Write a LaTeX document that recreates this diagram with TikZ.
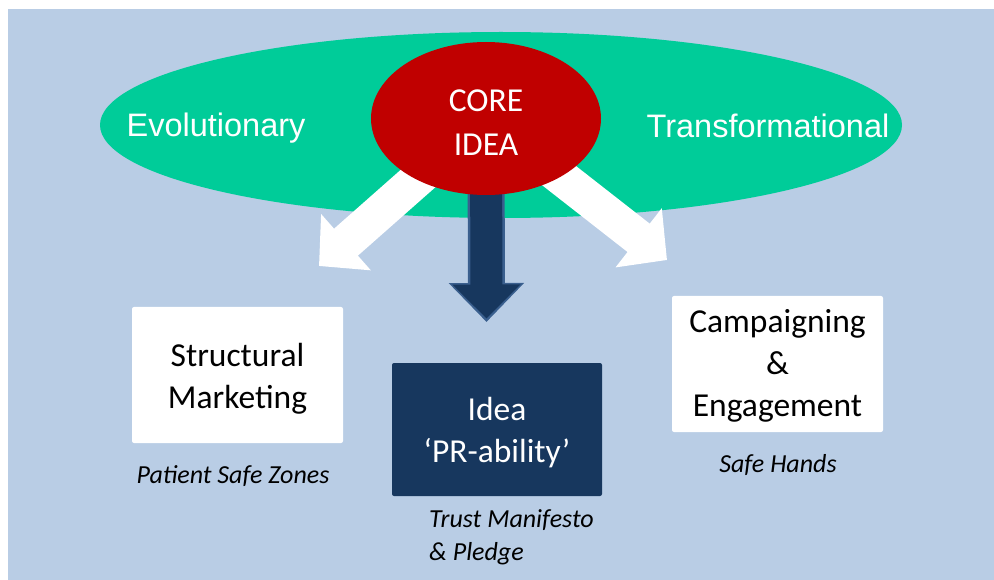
\documentclass[tikz,border=0pt]{standalone}
\usepackage{fontspec}
\setmainfont{Carlito}
\newfontfamily\arialfont{Liberation Sans}
\usetikzlibrary{shapes.geometric,arrows.meta,backgrounds}
\definecolor{SKY}{HTML}{B9CDE5}
\definecolor{MINT}{HTML}{00CC99}
\definecolor{CRIMSON}{HTML}{C00000}
\definecolor{NAVY}{HTML}{17375E}
\definecolor{NAVYEDGE}{HTML}{3A5F8E}
\newcommand{\topstrut}{\rule{0pt}{30pt}}
\begin{document}
\begin{tikzpicture}
[
 x=1pt, y=-1pt,
 inner sep=0pt,
 GREENOVAL/.style={ellipse, fill=MINT, minimum width=802pt, minimum height=186pt},
 REDOVAL/.style={ellipse, fill=CRIMSON, minimum width=230pt, minimum height=153pt,
                 text=white, align=center, font=\fontsize{33.5}{44}\selectfont},
 SIDE/.style={text=white, anchor=base, font=\arialfont\fontsize{32.5}{38}\selectfont},
 WHITEBOX/.style={rectangle, rounded corners=2pt, fill=white, minimum width=211pt,
                  minimum height=136pt, align=center, font=\fontsize{33.5}{42}\selectfont},
 NAVYBOX/.style={WHITEBOX, fill=NAVY, text=white, minimum width=210pt, minimum height=133pt},
 NOTE/.style={font=\itshape\fontsize{26}{33}\selectfont},
 WHITEARROW/.style={white, line width=36pt, -{Triangle[width=73pt,length=36pt]}},
 ]
%
\useasboundingbox (0,0) rectangle (994,580);
%
\node [REDOVAL]   (CORE)  at (486,118.5) {\topstrut CORE\\IDEA};
%
\node [SIDE]      (EVO)   at (216,137) {Evolutionary};
\node [SIDE]      (TRANS) at (768,138) {Transformational};
%
\node [WHITEBOX]  (SM)    at (237.5,375)   {\topstrut Structural\\Marketing};
\node [NAVYBOX]   (PR)    at (497,429.5)   {\topstrut Idea\\`PR-ability'};
\node [WHITEBOX]  (CE)    at (777.5,364)   {\rule{0pt}{27pt}Campaigning\\\&\\Engagement};
%
\node [NOTE, anchor=base]       (SMNOTE) at (233,483) {Patient Safe Zones};
\node [NOTE, anchor=base]       (CENOTE) at (778,472) {Safe Hands};
\node [NOTE, anchor=north west, align=left] (PRNOTE) at (429,509) {Trust Manifesto\\\& Pledge};
%
\coordinate (LTIP) at (319,266);
\coordinate (RTIP) at (667,260);
\coordinate (DTIP) at (486.5,322);
\coordinate (DTIPIN) at (486.5,318.5);
%
\begin{scope}[on background layer]
\fill [SKY] (8,9) rectangle (994,580);
\node [GREENOVAL] (RING)  at (501,125) {};
%
\draw [WHITEARROW]  (CORE.center) -- (LTIP);
\draw [WHITEARROW]  (CORE.center) -- (RTIP);
%
\draw [NAVYEDGE, line width=37pt, -{Triangle[width=73pt,length=39pt]}] (CORE.center) -- (DTIP);
\draw [NAVY, line width=32pt, -{Triangle[width=66pt,length=34pt]}] (CORE.center) -- (DTIPIN);
\end{scope}
%
\end{tikzpicture}
\end{document}
